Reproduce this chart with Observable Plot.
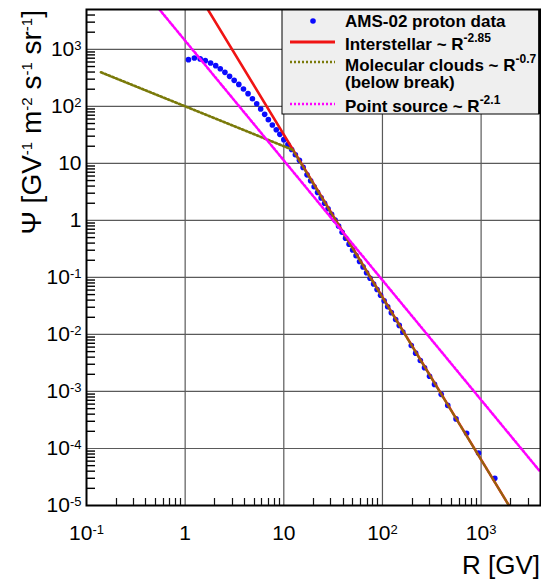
<!DOCTYPE html>
<html><head><meta charset="utf-8">
<script src="https://cdn.jsdelivr.net/npm/d3@7"></script>
<script src="https://cdn.jsdelivr.net/npm/@observablehq/plot@0.6"></script>
<style>
body{margin:0;background:#fff;}
#chart svg{display:block;}
</style>
</head><body><div id="chart"></div>
<script>
// AMS-02 proton data (rigidity in GV, flux)
const rigidity = [1.08,1.24,1.42,1.60,1.81,2.04,2.27,2.53,2.82,3.14,3.50,3.90,4.34,4.81,5.31,5.83,6.40,6.97,7.65,8.39,9.12,10.0,11.0,12.0,13.1,14.4,15.7,
  17.2,18.7,20.3,22.0,23.9,25.9,28.1,30.5,33.1,35.9,39.0,42.3,45.9,49.8,54.0,58.6,63.6,69.0,74.9,81.3,88.2,95.7,104,113,123,136,148,
  161,196,217,242,267,300,337,394,459,557,713,942,1377];
const flux = [660,705,680,634,577,518,458,395,336,286,243,202,167,136,111,90,72.4,58.5,47.2,39.0,32.3,26.1,21.3,17.5,14.2,11.3,8.5,
  6.3,4.95,3.9,3.1,2.48,2.0,1.6,1.28,1.01,0.80,0.62,0.488,0.383,0.303,0.241,0.190,0.153,0.121,0.097,0.0766,0.0613,0.0486,0.0389,0.0306,0.0241,0.0183,0.0144,
  0.011,6.4e-3,4.7e-3,3.5e-3,2.6e-3,1.85e-3,1.33e-3,8.9e-4,5.7e-4,3.3e-4,1.85e-4,8.3e-5,3.0e-5];

// Model lines (end points)
const interstellarR = [1, 4000];
const interstellarFlux = [22600, 1.23e-6];
const cloudsR = [0.14, 12.3];
const cloudsFlux = [396, 17.3];
const cloudsAboveR = [12.3, 4000];
const cloudsAboveFlux = [17.3, 1.23e-6];
const pointR = [0.3, 4000];
const pointFlux = [17800, 3.87e-5];

// Axes
const xDomain = [0.1, 4000];
const yDomain = [1e-5, 5000];
const xMajor = [0.1, 1, 10, 100, 1000];
const xMajorLabels = ["10^-1", "1", "10", "10^2", "10^3"];
const yMajor = [1e-5, 1e-4, 1e-3, 1e-2, 1e-1, 1, 10, 100, 1000];
const yMajorLabels = ["10^-5", "10^-4", "10^-3", "10^-2", "10^-1", "1", "10", "10^2", "10^3"];
const minorMultiples = [2, 3, 4, 5, 6, 7, 8, 9];

// Legend
const legendLabels = [["AMS-02 proton data"], ["Interstellar ~ R", "-2.85"], ["Molecular clouds ~ R", "-0.7"], ["(below break)"], ["Point source ~ R", "-2.1"]];

const colBlue = "#0a0aff", colRed = "#f01414", colOlive = "#7a7a0a", colMag = "#ff00ff";
const DOTS = "2,2";
const FONT = "'Liberation Sans', Arial, Helvetica, sans-serif";

const rows = (R, F) => R.map((r, i) => ({r, f: F[i]}));
const points = rows(rigidity, flux);
const xMinor = xMajor.flatMap(d => minorMultiples.map(m => d * m)).filter(v => v < xDomain[1] * 0.98);
const yMinor = yMajor.flatMap(d => minorMultiples.map(m => d * m)).filter(v => v < yDomain[1]);
// inner end of the y minor ticks: 9 px of the 454 px wide log x range
const yTickEnd = xDomain[0] * Math.pow(xDomain[1] / xDomain[0], 9 / 454);

const chart = Plot.plot({
  width: 541, height: 580,
  marginLeft: 86, marginRight: 1, marginTop: 9, marginBottom: 75,
  x: {type: "log", domain: xDomain},
  y: {type: "log", domain: yDomain},
  style: {fontFamily: FONT, background: "white", color: "black"},
  marks: [
    Plot.ruleX(xMajor.slice(1), {stroke: "#5a5a5a", strokeWidth: 1.2}),
    Plot.ruleY(yMajor.slice(1), {stroke: "#5a5a5a", strokeWidth: 1.2}),
    Plot.ruleY(yMinor, {x1: xDomain[0], x2: yTickEnd, stroke: "#000", strokeWidth: 1.4}),
    Plot.axisX({ticks: xMajor, tickSize: 0, tickPadding: 20, fontSize: 21, label: null,
      tickFormat: d => xMajorLabels[xMajor.indexOf(d)]}),
    Plot.axisY({ticks: yMajor, tickSize: 0, tickPadding: 5, fontSize: 21, label: null,
      tickFormat: d => yMajorLabels[yMajor.indexOf(d)]}),
    Plot.dot(points, {x: "r", y: "f", r: 2.8, fill: colBlue, stroke: null}),
    Plot.line(rows(interstellarR, interstellarFlux), {x: "r", y: "f", stroke: colRed, strokeWidth: 2.6, clip: true}),
    Plot.line(rows(cloudsR, cloudsFlux), {x: "r", y: "f", stroke: colOlive, strokeWidth: 2.6, strokeDasharray: DOTS, clip: true}),
    Plot.line(rows(cloudsAboveR, cloudsAboveFlux), {x: "r", y: "f", stroke: colOlive, strokeWidth: 2.2, strokeDasharray: DOTS, strokeOpacity: 0.8, clip: true}),
    Plot.line(rows(pointR, pointFlux), {x: "r", y: "f", stroke: colMag, strokeWidth: 2.6, strokeDasharray: DOTS, clip: true}),
    Plot.frame({stroke: "black", strokeWidth: 2})
  ]
});
document.getElementById("chart").appendChild(chart);

const svg = d3.select(chart);
const sx = chart.scale("x"), sy = chart.scale("y");
const y0 = +sy.apply(yDomain[0]);

// x minor ticks (inside the frame), placed with the plot's own x scale
const xTickPath = xMinor.map(v => `M${Math.round(+sx.apply(v)) + 0.5},${y0}V${y0 - 7}`).join("");
svg.append("path").attr("d", xTickPath).attr("stroke", "#111").attr("stroke-width", 1.2).attr("fill", "none");

// superscripts in tick labels
svg.selectAll("text").each(function () {
  const t = this.textContent;
  const m = t.match(/^(.*)\^(.*)$/);
  if (!m) return;
  const el = d3.select(this);
  el.text(null);
  el.append("tspan").text(m[1]);
  el.append("tspan").attr("font-size", 13).attr("dy", -6).text(m[2]);
});

// y axis label
const yl = svg.append("text")
  .attr("transform", "translate(41,10) rotate(-90)")
  .attr("text-anchor", "end")
  .attr("font-family", FONT).attr("fill", "black").attr("font-size", 28);
[["\u03A8 [GV"], ["-1", true], [" m"], ["-2", true], [" s"], ["-1", true], [" sr"], ["-1", true], ["]"]].forEach(([s, sup], i, arr) => {
  if (sup) {
    yl.append("tspan").attr("font-size", 15).attr("dy", -9).text(s);
  } else {
    const t = yl.append("tspan").attr("font-size", 28).text(s);
    if (i > 0 && arr[i - 1][1]) t.attr("dy", 9);
  }
});

// x axis label
svg.append("text")
  .attr("x", 540).attr("y", 574)
  .attr("text-anchor", "end")
  .attr("font-family", FONT).attr("font-size", 26).attr("fill", "black")
  .text("R [GV]");

// legend
const lg = svg.append("g").attr("font-family", FONT).attr("font-weight", "bold").attr("fill", "black").attr("text-anchor", "start");
lg.append("rect").attr("x", 282).attr("y", 10).attr("width", 257).attr("height", 104)
  .attr("fill", "#efefef").attr("stroke", "black").attr("stroke-width", 1);
lg.append("line").attr("x1", 539.5).attr("x2", 539.5).attr("y1", 9).attr("y2", 114)
  .attr("stroke", "black").attr("stroke-width", 2.5);
lg.append("circle").attr("cx", 313).attr("cy", 21).attr("r", 2.8).attr("fill", colBlue);
lg.append("line").attr("x1", 290).attr("x2", 335).attr("y1", 42).attr("y2", 42).attr("stroke", colRed).attr("stroke-width", 3);
lg.append("line").attr("x1", 290).attr("x2", 335).attr("y1", 62).attr("y2", 62).attr("stroke", colOlive).attr("stroke-width", 2.6).attr("stroke-dasharray", DOTS);
lg.append("line").attr("x1", 290).attr("x2", 335).attr("y1", 104).attr("y2", 104).attr("stroke", colMag).attr("stroke-width", 2.6).attr("stroke-dasharray", DOTS);
const baselines = [27, 50, 71, 88, 111.5];
legendLabels.forEach((parts, i) => {
  const t = lg.append("text").attr("x", 345).attr("y", baselines[i]).attr("font-size", 17).attr("text-anchor", "start");
  t.append("tspan").text(parts[0]);
  if (parts[1]) t.append("tspan").attr("font-size", 12).attr("dy", -8).text(parts[1]);
});
</script>
</body></html>
